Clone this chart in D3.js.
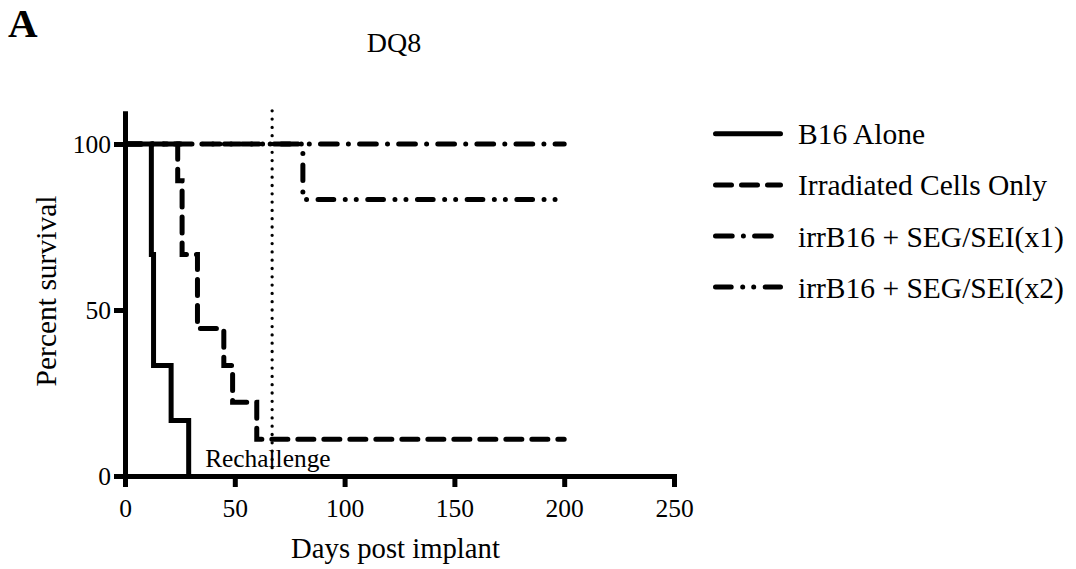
<!DOCTYPE html>
<html>
<head>
<meta charset="utf-8">
<script src="https://cdn.jsdelivr.net/npm/d3@7"></script>
<style>
  html, body { margin: 0; padding: 0; background: #fff; }
  svg { display: block; font-family: "Liberation Serif", "Times New Roman", serif; }
</style>
</head>
<body>
<svg id="chart" width="1076" height="569"></svg>
<script>
// Kaplan–Meier survival, DQ8 mice
const seriesNames = ["B16 Alone", "Irradiated Cells Only", "irrB16 + SEG/SEI(x1)", "irrB16 + SEG/SEI(x2)"];
const b16Days      = [0, 12, 13, 21, 29];
const b16Surv      = [100, 66.7, 33.3, 16.7, 0];
const irrDays      = [0, 24, 26, 33, 45, 49, 60, 200];
const irrSurv      = [100, 88.9, 66.7, 44.4, 33.3, 22.2, 11.1, 11.1];
const seg1Days     = [0, 200];
const seg1Surv     = [100, 100];
const seg2Days     = [0, 81, 200];
const seg2Surv     = [100, 83.3, 83.3];
const rechallengeDay = 67;
const xTicks = [0, 50, 100, 150, 200, 250];
const yTicks = [0, 50, 100];

const dashStyles = [null, "16,10", "16.7,11.2,0,11.2", "15.7,11.5,0,11,0,11.5"];
const series = [
  { name: seriesNames[0], days: b16Days, surv: b16Surv },
  { name: seriesNames[1], days: irrDays, surv: irrSurv },
  { name: seriesNames[2], days: seg1Days, surv: seg1Surv },
  { name: seriesNames[3], days: seg2Days, surv: seg2Surv }
];

const svg = d3.select("#chart");
const x = d3.scaleLinear().domain([0, 250]).range([125, 674]);
const y = d3.scaleLinear().domain([0, 110]).range([476, 476 - 3.32 * 110]);
const lw = 5;

// Axes
const xAxis = svg.append("g")
  .attr("transform", `translate(0,${y(0)})`)
  .call(d3.axisBottom(x).tickValues(xTicks).tickSize(11).tickSizeOuter(0).tickPadding(12));
const yAxis = svg.append("g")
  .attr("transform", `translate(${x(0)},0)`)
  .call(d3.axisLeft(y).tickValues(yTicks).tickSize(11).tickSizeOuter(0).tickPadding(3));

[xAxis, yAxis].forEach(g => {
  g.selectAll(".domain").attr("stroke", "#000").attr("stroke-width", lw);
  g.selectAll(".tick line").attr("stroke", "#000").attr("stroke-width", lw);
  g.selectAll(".tick text").attr("fill", "#000")
    .style("font-family", "'Liberation Serif', 'Times New Roman', serif").style("font-size", "25.5px");
});
xAxis.select(".domain").attr("stroke-linecap", "square");
xAxis.selectAll(".tick text").attr("dy", "0.71em");
yAxis.selectAll(".tick text").attr("dy", "0.35em");

// Rechallenge marker
svg.append("line")
  .attr("x1", x(rechallengeDay)).attr("x2", x(rechallengeDay))
  .attr("y1", y(110)).attr("y2", y(0))
  .attr("stroke", "#000").attr("stroke-width", 3.3)
  .attr("stroke-linecap", "round").attr("stroke-dasharray", "0,8.3");

svg.append("text")
  .attr("x", x(rechallengeDay) - 67).attr("y", 467)
  .attr("font-size", 25.4).attr("fill", "#000")
  .text("Rechallenge");

// Survival curves (step functions)
const line = d3.line().curve(d3.curveStepAfter).x(d => x(d[0])).y(d => y(d[1]));
series.forEach((s, i) => {
  const pts = s.days.map((d, k) => [d, s.surv[k]]);
  svg.append("path")
    .attr("d", line(pts))
    .attr("fill", "none").attr("stroke", "#000").attr("stroke-width", lw)
    .attr("stroke-linecap", dashStyles[i] ? "round" : "butt")
    .attr("stroke-linejoin", "miter")
    .attr("stroke-dasharray", dashStyles[i]);
});

// Legend
const legend = svg.append("g");
series.forEach((s, i) => {
  const cy = 133.8 + i * 51.1;
  legend.append("line")
    .attr("x1", 715.5).attr("x2", i === 2 ? 772.3 : 780.5)
    .attr("y1", cy).attr("y2", cy)
    .attr("stroke", "#000").attr("stroke-width", lw)
    .attr("stroke-linecap", "round")
    .attr("stroke-dasharray", dashStyles[i]);
  legend.append("text")
    .attr("x", 798).attr("y", cy + 10.5)
    .attr("font-size", 29.5).attr("fill", "#000")
    .text(s.name);
});

// Titles
svg.append("text").attr("x", 394).attr("y", 51.7).attr("text-anchor", "middle")
  .attr("font-size", 28).attr("fill", "#000").text("DQ8");
svg.append("text").attr("x", 8).attr("y", 36.6)
  .attr("font-size", 41).attr("font-weight", "bold").attr("fill", "#000").text("A");
svg.append("text").attr("x", 395.5).attr("y", 558).attr("text-anchor", "middle")
  .attr("font-size", 28.7).attr("fill", "#000").text("Days post implant");
svg.append("text").attr("transform", "translate(56,291) rotate(-90)").attr("text-anchor", "middle")
  .attr("font-size", 29.5).attr("fill", "#000").text("Percent survival");
</script>
</body>
</html>
